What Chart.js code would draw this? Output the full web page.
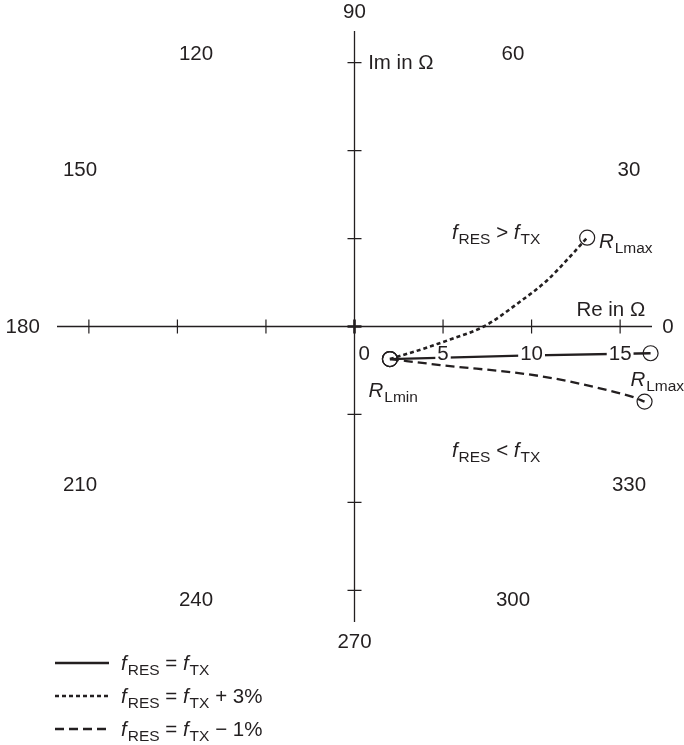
<!DOCTYPE html>
<html><head><meta charset="utf-8">
<script src="https://cdn.jsdelivr.net/npm/chart.js@4/dist/chart.umd.min.js"></script>
<style>html,body{margin:0;padding:0;background:#fff}canvas{display:block}</style>
</head><body>
<canvas id="c" width="684" height="745"></canvas>
<script>
// ---------- data ----------
const axisRange = [-16.8, 16.8];
const axisTicks = [-15, -10, -5, 0, 5, 10, 15];
const tickLabelValues = [0, 5, 10, 15];
const tickLabels = ['0', '5', '10', '15'];
const angleValues = [0, 30, 60, 90, 120, 150, 180, 210, 240, 270, 300, 330];
const angleLabels = ['0', '30', '60', '90', '120', '150', '180', '210', '240', '270', '300', '330'];
const seriesNames = ['f_{RES} = f_{TX}', 'f_{RES} = f_{TX} + 3%', 'f_{RES} = f_{TX} \u2212 1%'];
// f_RES = f_TX (solid)
const equalRe = [2.0, 9.4, 16.72];
const equalIm = [-1.85, -1.66, -1.52];
// f_RES = f_TX + 3% (dotted)
const plus3Re = [2.0, 3.9, 5.4, 7.3, 9.36, 10.87, 12.36, 13.14];
const plus3Im = [-1.85, -1.26, -0.74, 0.0, 1.42, 2.62, 4.18, 5.05];
// f_RES = f_TX - 1% (dashed)
const minus1Re = [2.0, 4.84, 10.49, 14.26, 15.75, 16.38];
const minus1Im = [-1.85, -2.19, -2.82, -3.61, -4.02, -4.27];
// text annotations
const noteTexts = ['Im in \u03A9', 'Re in \u03A9', 'f_{RES} > f_{TX}', 'R_{Lmax}', 'R_{Lmax}', 'R_{Lmin}', 'f_{RES} < f_{TX}'];
const noteRe = [0.77, 12.53, 5.5, 13.8, 15.58, 0.79, 5.5];
const noteIm = [15.04, 1.03, 5.4, 4.9, -2.95, -3.61, -7.02];

// ---------- helpers ----------
const INK = '#231f20';
const FONT = '"Liberation Sans", Arial, Helvetica, sans-serif';
const MAIN = 20.5, SUB = 15.5;
function parseRich(s) {
  const segs = []; const re = /([A-Za-z])_\{([^}]*)\}/g; let last = 0, m;
  while ((m = re.exec(s))) {
    if (m.index > last) segs.push({ t: s.slice(last, m.index) });
    segs.push({ t: m[1], it: true });
    segs.push({ t: m[2], sub: true });
    last = re.lastIndex;
  }
  if (last < s.length) segs.push({ t: s.slice(last) });
  return segs;
}
function drawRich(ctx, s, x, yMid) {
  const base = yMid + MAIN * 0.36;
  let cx = x;
  ctx.textAlign = 'left'; ctx.textBaseline = 'alphabetic'; ctx.fillStyle = INK;
  for (const g of parseRich(s)) {
    const fs = g.sub ? SUB : MAIN;
    ctx.font = (g.it ? 'italic ' : '') + fs + 'px ' + FONT;
    ctx.fillText(g.t, cx, base + (g.sub ? 5 : 0));
    cx += ctx.measureText(g.t).width + (g.it ? 1 : 0);
  }
}
const pts = (xs, ys) => xs.map((x, i) => ({ x, y: ys[i] }));
const endRadius = (n) => (c) => (c.dataIndex === 0 || c.dataIndex === n - 1) ? 7.5 : 0;

const decor = {
  id: 'decor',
  beforeDatasetsDraw(chart) {
    const { ctx, scales: { x, y } } = chart;
    const x0 = x.getPixelForValue(0), y0 = y.getPixelForValue(0);
    ctx.save();
    ctx.strokeStyle = INK; ctx.lineWidth = 1.3;
    ctx.beginPath();
    ctx.moveTo(x.getPixelForValue(axisRange[0]), y0); ctx.lineTo(x.getPixelForValue(axisRange[1]), y0);
    ctx.moveTo(x0, y.getPixelForValue(axisRange[1])); ctx.lineTo(x0, y.getPixelForValue(axisRange[0]));
    ctx.stroke();
    for (const v of axisTicks) {
      ctx.lineWidth = v === 0 ? 2.6 : 1.2;
      const px = x.getPixelForValue(v), py = y.getPixelForValue(v);
      ctx.beginPath();
      ctx.moveTo(px, y0 - 7); ctx.lineTo(px, y0 + 7);
      ctx.moveTo(x0 - 7, py); ctx.lineTo(x0 + 7, py);
      ctx.stroke();
    }
    ctx.restore();
  },
  afterDatasetsDraw(chart) {
    const { ctx, scales: { x, y } } = chart;
    const x0 = x.getPixelForValue(0), y0 = y.getPixelForValue(0);
    ctx.save();
    // tick labels with white background
    ctx.font = MAIN + 'px ' + FONT; ctx.textBaseline = 'middle';
    tickLabelValues.forEach((v, i) => {
      const t = tickLabels[i];
      const w = ctx.measureText(t).width;
      let cx = x.getPixelForValue(v);
      if (v === 0) cx = x0 + 4 + w / 2;
      const cy = y0 + 27;
      if (v !== 0) { ctx.fillStyle = '#fff'; ctx.fillRect(cx - w / 2 - 2, cy - 8, w + 4, 16); }
      ctx.fillStyle = INK; ctx.textAlign = 'center';
      ctx.fillText(t, cx, cy + 1);
    });
    // angle labels
    const R = 17.9;
    angleValues.forEach((a, i) => {
      const rad = a * Math.PI / 180, c = Math.cos(rad), s = Math.sin(rad);
      ctx.fillStyle = INK; ctx.font = MAIN + 'px ' + FONT; ctx.textBaseline = 'middle';
      if (Math.abs(c - 1) < 1e-6) { ctx.textAlign = 'left'; ctx.fillText(angleLabels[i], x.getPixelForValue(17.38), y0 + 1); }
      else if (Math.abs(c + 1) < 1e-6) { ctx.textAlign = 'right'; ctx.fillText(angleLabels[i], x.getPixelForValue(-17.77), y0 + 1); }
      else { ctx.textAlign = 'center'; ctx.fillText(angleLabels[i], x.getPixelForValue(R * c), y.getPixelForValue(R * s) + 1); }
    });
    // annotations
    noteTexts.forEach((t, i) => drawRich(ctx, t, x.getPixelForValue(noteRe[i]), y.getPixelForValue(noteIm[i])));
    // legend
    chart.data.datasets.forEach((ds, i) => {
      const ly = 663 + i * 33;
      ctx.strokeStyle = INK; ctx.lineWidth = ds.borderWidth;
      ctx.setLineDash(ds.borderDash || []);
      ctx.beginPath(); ctx.moveTo(55, ly); ctx.lineTo(109, ly); ctx.stroke();
      ctx.setLineDash([]);
      drawRich(ctx, seriesNames[i], 121, ly);
    });
    ctx.restore();
  }
};

const common = {
  showLine: true, borderColor: INK, pointBorderColor: INK, clip: false,
  pointBackgroundColor: 'rgba(0,0,0,0)', pointBorderWidth: 1.2, borderWidth: 2.3,
  pointHoverRadius: 0
};
new Chart(document.getElementById('c'), {
  type: 'scatter',
  data: {
    datasets: [
      Object.assign({}, common, { label: seriesNames[0], data: pts(equalRe, equalIm), borderDash: [], pointRadius: endRadius(equalRe.length), tension: 0 }),
      Object.assign({}, common, { label: seriesNames[1], data: pts(plus3Re, plus3Im), borderDash: [4, 3], borderWidth: 2.6, pointRadius: endRadius(plus3Re.length), cubicInterpolationMode: 'monotone' }),
      Object.assign({}, common, { label: seriesNames[2], data: pts(minus1Re, minus1Im), borderDash: [9, 5], pointRadius: endRadius(minus1Re.length), cubicInterpolationMode: 'monotone' })
    ]
  },
  options: {
    responsive: false, animation: false, devicePixelRatio: 1,
    layout: { padding: { left: 57, right: 32, top: 31, bottom: 123 } },
    scales: {
      x: { type: 'linear', min: axisRange[0], max: axisRange[1], display: false },
      y: { type: 'linear', min: axisRange[0], max: axisRange[1], display: false }
    },
    plugins: { legend: { display: false }, tooltip: { enabled: false } }
  },
  plugins: [decor]
});
</script>
</body></html>
